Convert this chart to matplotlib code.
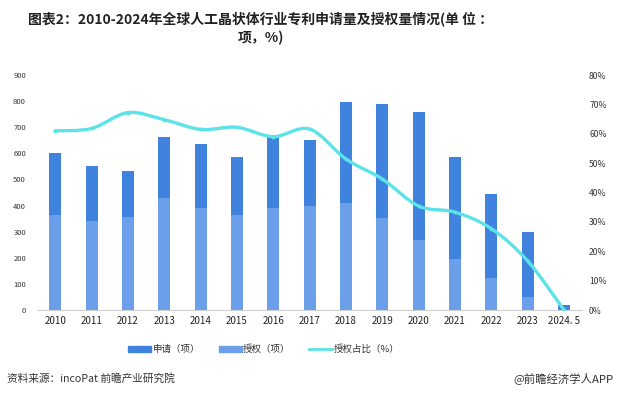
import matplotlib
matplotlib.use("Agg")
import matplotlib.pyplot as plt
from matplotlib.path import Path
from matplotlib.patches import PathPatch, Patch
from matplotlib.lines import Line2D

plt.rcParams['font.family'] = ['Noto Sans CJK SC', 'DejaVu Sans']

years = ["2010", "2011", "2012", "2013", "2014", "2015", "2016", "2017",
         "2018", "2019", "2020", "2021", "2022", "2023", "2024. 5"]
apply_cnt = [600, 552, 533, 662, 636, 587, 663, 651, 795, 789, 758, 585, 444, 299, 19]
grant_cnt = [364, 341, 356, 429, 391, 364, 391, 400, 409, 352, 268, 195, 123, 50, 0]
grant_pct = [61.0, 61.8, 67.2, 64.8, 61.5, 62.2, 59.0, 61.6, 51.4, 44.6, 35.4, 33.3, 27.7, 16.7, 0.0]

c_apply = "#3F83DF"
c_grant = "#6C9FE9"
c_line = "#5BE3E8"

fig = plt.figure(figsize=(6.18, 3.99), dpi=100)
ax = fig.add_axes([0.060, 0.223, 0.882, 0.589])
x = list(range(len(years)))

ax.bar(x, apply_cnt, width=0.33, color=c_apply, zorder=2)
ax.bar(x, grant_cnt, width=0.33, color=c_grant, zorder=3)
ax.set_xlim(-0.5, 14.5)
ax.set_ylim(0, 900)
ax.set_yticks(range(0, 901, 100))
ax.set_xticks(x)
ax.set_xticklabels(years, fontsize=7, color="#222222")
ax.tick_params(axis='y', labelsize=5.5, length=0, pad=8, colors="#333333")
ax.tick_params(axis='x', length=0, pad=4)
for s in ["top", "right", "left"]:
    ax.spines[s].set_visible(False)
ax.spines["bottom"].set_color("#D0D0D0")

ax2 = ax.twinx()
ax2.set_ylim(0, 80)
ax2.set_yticks(range(0, 81, 10))
ax2.set_yticklabels([f"{v}%" for v in range(0, 81, 10)])
ax2.tick_params(axis='y', labelsize=6.2, length=0, pad=5, colors="#333333")
for s in ax2.spines.values():
    s.set_visible(False)

# smoothed line like the original (bezier through the points)
pts = list(zip(x, grant_pct))
verts = [pts[0]]
codes = [Path.MOVETO]
for i in range(len(pts) - 1):
    p0 = pts[i - 1] if i > 0 else pts[i]
    p1 = pts[i]
    p2 = pts[i + 1]
    p3 = pts[i + 2] if i + 2 < len(pts) else pts[i + 1]
    c1 = (p1[0] + (p2[0] - p0[0]) / 6, p1[1] + (p2[1] - p0[1]) / 6)
    c2 = (p2[0] - (p3[0] - p1[0]) / 6, p2[1] - (p3[1] - p1[1]) / 6)
    verts += [c1, c2, p2]
    codes += [Path.CURVE4] * 3
ax2.add_patch(PathPatch(Path(verts, codes), facecolor="none", edgecolor=c_line,
                        lw=2.4, zorder=4, capstyle="round"))
ax2.plot(x, grant_pct, linestyle="none", marker="o", ms=1.8, color=c_line, zorder=5)

handles = [Patch(color=c_apply), Patch(color=c_grant),
           Line2D([0], [0], color=c_line, lw=2)]
labels = ["申请（项）", "授权（项）", "授权占比（%）"]
fig.legend(handles, labels, loc="center", bbox_to_anchor=(0.427, 0.125), ncol=3,
           frameon=False, fontsize=6.8, handlelength=2.4, handleheight=0.6,
           handletextpad=0.15, columnspacing=2.0, labelcolor="#333333")

fig.text(0.422, 0.953, "图表2：2010-2024年全球人工晶状体行业专利申请量及授权量情况(单 位 ：",
         ha="center", va="center", fontsize=10, fontweight="bold", color="#222222")
fig.text(0.422, 0.905, "项，%)", ha="center", va="center", fontsize=10,
         fontweight="bold", color="#222222")

fig.text(0.011, 0.052, "资料来源：incoPat 前瞻产业研究院", ha="left", va="center",
         fontsize=7.7, color="#333333")
fig.text(0.992, 0.052, "@前瞻经济学人APP", ha="right", va="center",
         fontsize=8.2, color="#333333")

fig.savefig("out.png", dpi=100)
